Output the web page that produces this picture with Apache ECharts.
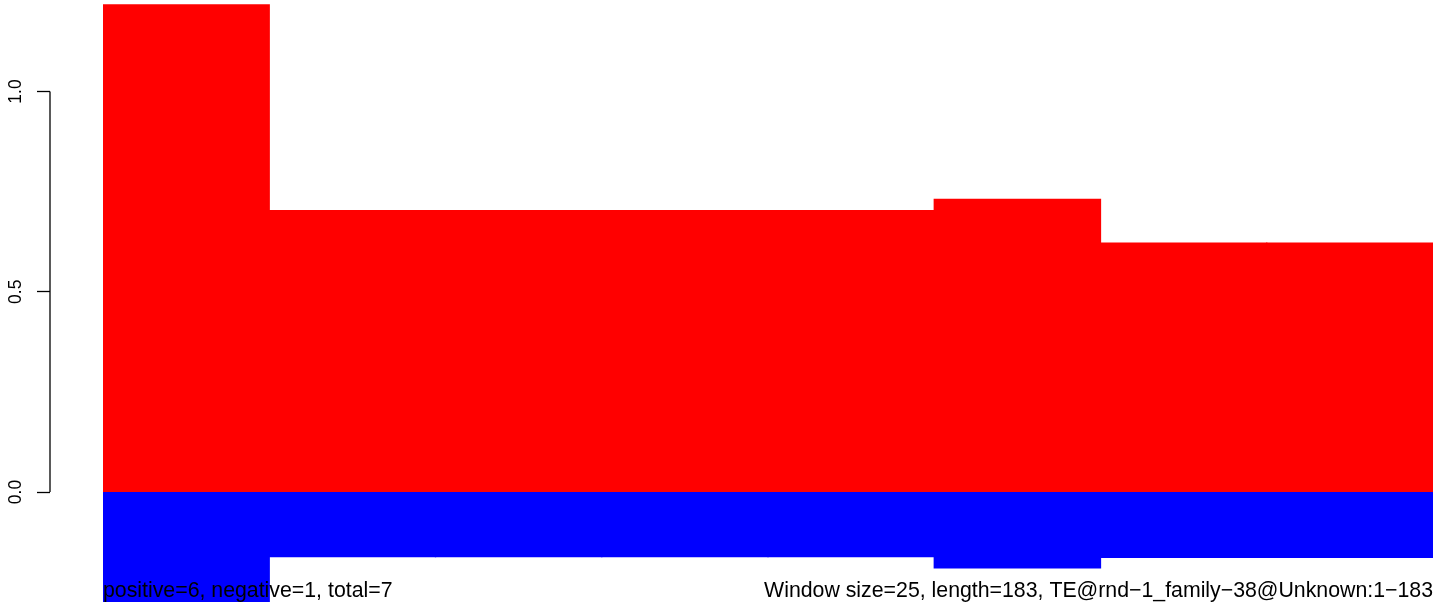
<!DOCTYPE html>
<html>
<head>
<meta charset="utf-8">
<script src="https://cdn.jsdelivr.net/npm/echarts@6/dist/echarts.min.js"></script>
<style>
html,body{margin:0;padding:0;background:#fff;}
#chart{width:1444px;height:613px;}
</style>
</head>
<body>
<div id="chart"></div>
<script>
// Window start positions (window size 25, sequence length 183)
const categories = ["1", "26", "51", "76", "101", "126", "151", "176"];
const positiveValues = [1.218, 0.704, 0.704, 0.704, 0.704, 0.732, 0.623, 0.623];
const negativeValues = [-0.275, -0.163, -0.163, -0.163, -0.163, -0.191, -0.165, -0.165];
const yTickValues = [0, 0.5, 1.0];
const leftNote = "positive=6, negative=1, total=7";
const rightNote = "Window size=25, length=183, TE@rnd\u22121_family\u221238@Unknown:1\u2212183";

const FONT = "Liberation Sans, Arial, Helvetica, sans-serif";
const AXIS_OFFSET = 53;

const chart = echarts.init(document.getElementById('chart'), null, {renderer: 'canvas'});

chart.setOption({
  animation: false,
  backgroundColor: '#ffffff',
  grid: {left: 103, right: 11, top: 3.4, bottom: 10.9, containLabel: false},
  xAxis: {
    type: 'category',
    data: categories,
    boundaryGap: true,
    show: false
  },
  yAxis: {
    type: 'value',
    min: -0.275,
    max: 1.22,
    offset: AXIS_OFFSET,
    splitLine: {show: false},
    axisLine: {show: false},
    axisTick: {show: true, length: 13, customValues: yTickValues, lineStyle: {color: '#000', width: 1.3}},
    axisLabel: {
      show: true,
      customValues: yTickValues,
      rotate: 90,
      margin: 25,
      color: '#000',
      fontSize: 17.5,
      fontFamily: FONT,
      formatter: v => Number(v).toFixed(1)
    }
  },
  series: [
    {
      type: 'bar',
      name: 'positive',
      data: positiveValues,
      barWidth: 167.5,
      barGap: '-100%',
      clip: true,
      itemStyle: {color: '#ff0000'},
      silent: true
    },
    {
      type: 'bar',
      name: 'negative',
      data: negativeValues,
      barWidth: 167.5,
      barGap: '-100%',
      clip: true,
      itemStyle: {color: '#0000ff'},
      silent: true
    },
    {
      type: 'custom',
      name: 'axisLine',
      clip: false,
      silent: true,
      data: [[0, yTickValues[0], yTickValues[yTickValues.length - 1]]],
      renderItem: function (params, api) {
        const p0 = api.coord([api.value(0), api.value(1)]);
        const p1 = api.coord([api.value(0), api.value(2)]);
        const half = api.size([1, 0])[0] / 2;
        const x = p0[0] - half - AXIS_OFFSET;
        return {
          type: 'line',
          shape: {x1: x, y1: p0[1], x2: x, y2: p1[1]},
          style: {stroke: '#000', lineWidth: 1.3}
        };
      }
    }
  ],
  graphic: [
    {
      type: 'text', left: 103, top: 581, z: 100,
      style: {text: leftNote, fill: '#000', font: '21.3px ' + FONT}
    },
    {
      type: 'text', right: 11, top: 581, z: 100,
      style: {text: rightNote, fill: '#000', font: '21.3px ' + FONT}
    }
  ]
});
</script>
</body>
</html>
